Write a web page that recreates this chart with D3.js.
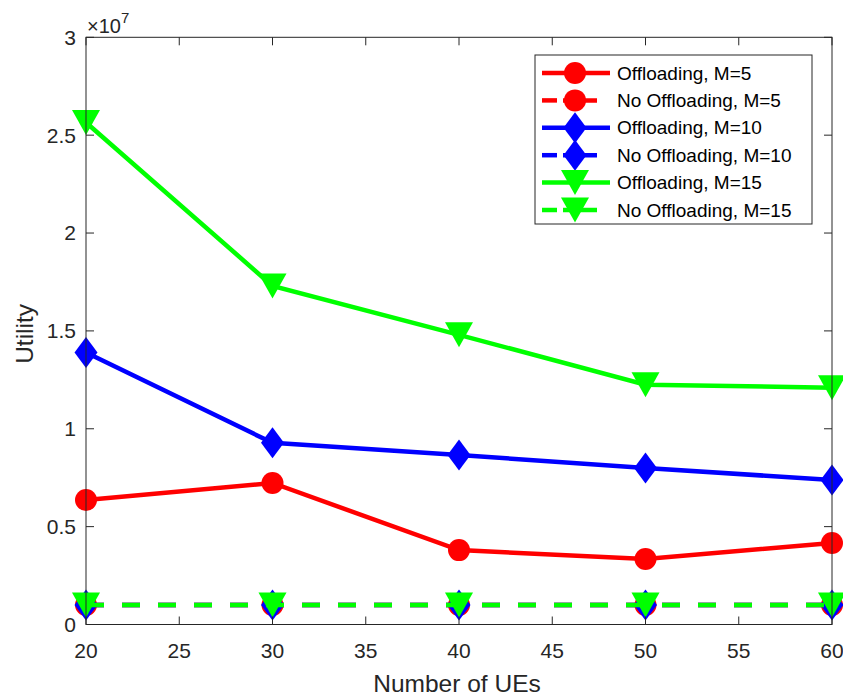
<!DOCTYPE html>
<html><head><meta charset="utf-8">
<script src="https://cdn.jsdelivr.net/npm/d3@7"></script>
<style>body{margin:0;background:#fff}svg{display:block}text{font-family:"Liberation Sans",Arial,Helvetica,sans-serif}</style>
</head><body>
<svg id="c" width="843" height="698"></svg>
<script>
const ues = [20, 30, 40, 50, 60];
const offM5 = [0.636, 0.723, 0.38, 0.335, 0.416];
const noOffM5 = [0.1, 0.1, 0.1, 0.1, 0.1];
const offM10 = [1.39, 0.928, 0.866, 0.80, 0.738];
const noOffM10 = [0.1, 0.1, 0.1, 0.1, 0.1];
const offM15 = [2.565, 1.73, 1.48, 1.225, 1.21];
const noOffM15 = [0.1, 0.1, 0.1, 0.1, 0.1];
const xTicks = [20, 25, 30, 35, 40, 45, 50, 55, 60];
const yTicks = [0, 0.5, 1, 1.5, 2, 2.5, 3];
const seriesNames = ["Offloading, M=5","No Offloading, M=5","Offloading, M=10","No Offloading, M=10","Offloading, M=15","No Offloading, M=15"];

const series = [
  {name: seriesNames[0], vals: offM5, color: "#ff0000", dash: false, marker: "circle"},
  {name: seriesNames[1], vals: noOffM5, color: "#ff0000", dash: true, marker: "circle"},
  {name: seriesNames[2], vals: offM10, color: "#0000ff", dash: false, marker: "diamond"},
  {name: seriesNames[3], vals: noOffM10, color: "#0000ff", dash: true, marker: "diamond"},
  {name: seriesNames[4], vals: offM15, color: "#00ff00", dash: false, marker: "tri"},
  {name: seriesNames[5], vals: noOffM15, color: "#00ff00", dash: true, marker: "tri"}
];

const svg = d3.select("#c");
const L = 86, R = 832, T = 37.3, B = 624.5;
const x = d3.scaleLinear().domain([20, 60]).range([L, R]);
const y = d3.scaleLinear().domain([0, 3]).range([B, T]);
const axisCol = "#262626";

function markerPath(type) {
  if (type === "circle") return "M-11,0A11,11 0 1,0 11,0A11,11 0 1,0 -11,0Z";
  if (type === "diamond") return "M0,-15.5L11.5,0L0,15.5L-11.5,0Z";
  return "M-14,-12.5L14,-12.5L0,12.5Z";
}

const plot = svg.append("g");
const line = d3.line().x((d, i) => x(ues[i])).y(d => y(d));
series.forEach(s => {
  plot.append("path").attr("d", line(s.vals)).attr("fill", "none")
    .attr("stroke", s.color).attr("stroke-width", 4.5)
    .attr("stroke-dasharray", s.dash ? "18,18" : null);
  s.vals.forEach((v, i) => {
    plot.append("path").attr("d", markerPath(s.marker))
      .attr("transform", `translate(${x(ues[i])},${y(v)})`)
      .attr("fill", s.color).attr("stroke", "none");
  });
});

// axes box
const ax = svg.append("g");
ax.append("rect").attr("x", L).attr("y", T).attr("width", R - L).attr("height", B - T)
  .attr("fill", "none").attr("stroke", axisCol).attr("stroke-width", 1);
const tl = 8;
xTicks.forEach(t => {
  ax.append("line").attr("x1", x(t)).attr("x2", x(t)).attr("y1", B).attr("y2", B - tl).attr("stroke", axisCol);
  ax.append("line").attr("x1", x(t)).attr("x2", x(t)).attr("y1", T).attr("y2", T + tl).attr("stroke", axisCol);
  ax.append("text").attr("x", x(t)).attr("y", B + 33.5).attr("text-anchor", "middle")
    .attr("font-size", 21).attr("fill", axisCol).text(t);
});
yTicks.forEach(t => {
  ax.append("line").attr("y1", y(t)).attr("y2", y(t)).attr("x1", L).attr("x2", L + tl).attr("stroke", axisCol);
  ax.append("line").attr("y1", y(t)).attr("y2", y(t)).attr("x1", R).attr("x2", R - tl).attr("stroke", axisCol);
  ax.append("text").attr("x", L - 10).attr("y", y(t)).attr("dy", "0.35em").attr("text-anchor", "end")
    .attr("font-size", 21).attr("fill", axisCol).text(t);
});
// exponent
const ex = ax.append("text").attr("x", L + 1).attr("y", 32.5).attr("font-size", 20).attr("fill", axisCol);
ex.append("tspan").text("\u00d710");
ex.append("tspan").attr("dy", -10).attr("font-size", 15).text("7");

ax.append("text").attr("x", (L + R) / 2 - 2).attr("y", 692).attr("text-anchor", "middle")
  .attr("font-size", 24.5).attr("fill", axisCol).text("Number of UEs");
ax.append("text").attr("transform", `translate(33,${(T + B) / 2 + 3}) rotate(-90)`).attr("text-anchor", "middle")
  .attr("font-size", 24.5).attr("fill", axisCol).text("Utility");

// legend
const lg = svg.append("g");
const lx = 535, ly = 55, lw = 277, lh = 169;
lg.append("rect").attr("x", lx).attr("y", ly).attr("width", lw).attr("height", lh)
  .attr("fill", "#fff").attr("stroke", axisCol).attr("stroke-width", 1);
series.forEach((s, i) => {
  const cy = 73 + i * 27.4;
  if (s.dash) {
    lg.append("line").attr("x1", 542).attr("x2", 557).attr("y1", cy).attr("y2", cy).attr("stroke", s.color).attr("stroke-width", 4.5);
    lg.append("line").attr("x1", 563).attr("x2", 597).attr("y1", cy).attr("y2", cy).attr("stroke", s.color).attr("stroke-width", 4.5);
  } else {
    lg.append("line").attr("x1", 542).attr("x2", 610).attr("y1", cy).attr("y2", cy).attr("stroke", s.color).attr("stroke-width", 4.5);
  }
  lg.append("path").attr("d", markerPath(s.marker)).attr("transform", `translate(575,${cy})`).attr("fill", s.color);
  lg.append("text").attr("x", 617).attr("y", cy).attr("dy", "0.35em").attr("font-size", 19)
    .attr("fill", "#000").text(s.name);
});
</script>
</body></html>
